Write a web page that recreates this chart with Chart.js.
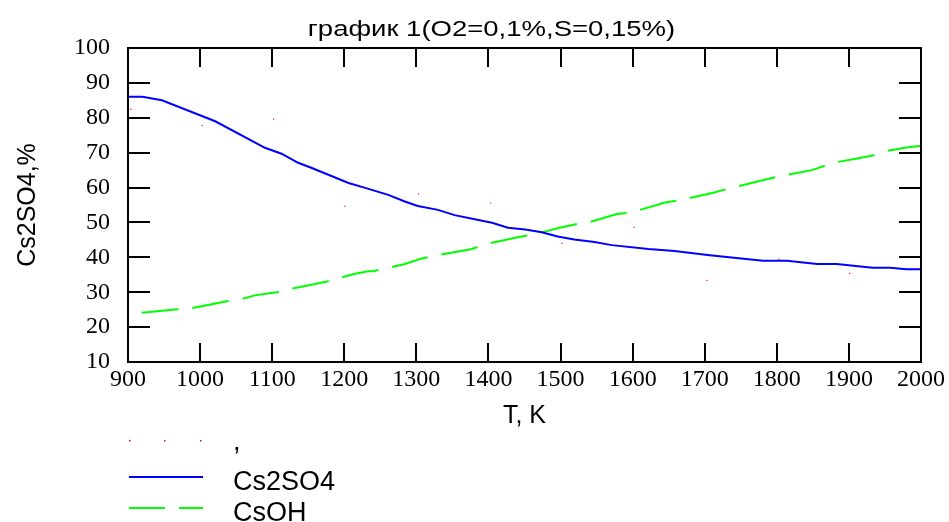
<!DOCTYPE html>
<html>
<head>
<meta charset="utf-8">
<script src="https://cdn.jsdelivr.net/npm/chart.js@4.4.1/dist/chart.umd.min.js"></script>
<style>
  html, body { margin: 0; padding: 0; background: #fff; }
</style>
</head>
<body>
<canvas id="chart" width="949" height="522"></canvas>
<script>
const chartTitle = 'график 1(O2=0,1%,S=0,15%)';

// temperature, K
const tempCs2SO4 = [900, 920, 947, 1021, 1090, 1113, 1136, 1155, 1206, 1229, 1261, 1284, 1302, 1330, 1353, 1381, 1405, 1427, 1451, 1474, 1496, 1519, 1547, 1571, 1622, 1658, 1707, 1781, 1814, 1856, 1883, 1933, 1957, 1980, 2000];
const cs2so4 = [86.0, 86.0, 85.0, 79.0, 71.4, 69.7, 67.1, 65.6, 61.3, 59.9, 57.9, 56.0, 54.7, 53.6, 52.1, 50.9, 49.9, 48.5, 48.0, 47.2, 46.0, 45.1, 44.4, 43.5, 42.4, 41.8, 40.6, 39.0, 39.0, 38.1, 38.1, 37.0, 37.0, 36.6, 36.6];

const tempCsOH = [919, 969, 988, 1039, 1060, 1076, 1106, 1127, 1173, 1194, 1215, 1233, 1240, 1261, 1284, 1305, 1326, 1377, 1398, 1444, 1464, 1497, 1510, 1531, 1543, 1578, 1599, 1645, 1666, 1712, 1733, 1779, 1800, 1849, 1878, 1913, 1933, 1952, 1980, 2000];
const csoh = [24.1, 25.1, 25.4, 27.5, 28.2, 29.1, 30.0, 31.0, 32.9, 34.1, 35.3, 36.0, 36.0, 37.0, 38.1, 39.5, 40.5, 42.4, 43.9, 45.9, 46.6, 48.4, 49.0, 49.9, 50.3, 52.4, 52.9, 55.7, 56.4, 58.5, 59.7, 62.0, 63.1, 65.0, 67.1, 68.4, 69.2, 70.5, 71.5, 72.0];

// the stray red points
const tempMarks = [904, 1003, 1102, 1201, 1303, 1403, 1502, 1602, 1703, 1803, 1901];
const marks = [82.4, 77.8, 79.6, 54.6, 58.2, 55.5, 44.0, 48.6, 33.4, 39.4, 35.4];

const xTicks = [900, 1000, 1100, 1200, 1300, 1400, 1500, 1600, 1700, 1800, 1900, 2000];
const yTicks = [10, 20, 30, 40, 50, 60, 70, 80, 90, 100];

const SANS = "'Liberation Sans', Arial, sans-serif";
const SERIF = "'Liberation Serif', 'Times New Roman', serif";

const zip = (xs, ys) => xs.map((x, i) => ({ x, y: ys[i] }));

// title, legend under the plot, then frame with inward ticks
const boxPlugin = {
  id: 'boxTicks',
  afterDraw(chart) {
    const ctx = chart.ctx;
    const a = chart.chartArea;
    const xs = chart.scales.x;
    const ys = chart.scales.y;
    ctx.save();
    ctx.setLineDash([]);
    ctx.fillStyle = '#000';

    // title (text in the original is a bit stretched)
    ctx.font = '22px ' + SANS;
    ctx.textAlign = 'center';
    ctx.textBaseline = 'alphabetic';
    ctx.save();
    ctx.translate(491.5, 36);
    ctx.scale(1.25, 1);
    ctx.fillText(chartTitle, 0, 0);
    ctx.restore();

    // legend
    const rows = [
      { ds: chart.data.datasets[0], lineY: 440, textY: 450 },
      { ds: chart.data.datasets[1], lineY: 477, textY: 490 },
      { ds: chart.data.datasets[2], lineY: 508, textY: 521 }
    ];
    ctx.textAlign = 'left';
    ctx.font = '27px ' + SANS;
    rows.forEach((r) => {
      const ds = r.ds;
      if (ds.showLine === false) {
        ctx.fillStyle = ds.backgroundColor;
        [129, 164, 200].forEach((px) => ctx.fillRect(px, r.lineY, 1.5, 1.5));
      } else {
        ctx.strokeStyle = ds.borderColor;
        ctx.lineWidth = ds.borderWidth;
        ctx.setLineDash(ds.borderDash ? [36, 14] : []);
        ctx.beginPath();
        ctx.moveTo(129, r.lineY);
        ctx.lineTo(203, r.lineY);
        ctx.stroke();
        ctx.setLineDash([]);
      }
      ctx.fillStyle = '#000';
      ctx.fillText(ds.label, 233, r.textY);
    });

    // frame
    ctx.fillStyle = '#000';
    ctx.fillRect(a.left - 1, a.top - 1, a.right - a.left + 2, 2);
    ctx.fillRect(a.left - 1, a.bottom - 1, a.right - a.left + 2, 2);
    ctx.fillRect(a.left - 1, a.top - 1, 2, a.bottom - a.top + 2);
    ctx.fillRect(a.right - 1, a.top - 1, 2, a.bottom - a.top + 2);

    // inward tick marks on all four sides
    yTicks.forEach((v) => {
      const py = Math.round(ys.getPixelForValue(v));
      ctx.fillRect(a.left, py - 1, 22, 2);
      ctx.fillRect(a.right - 22, py - 1, 22, 2);
    });
    xTicks.forEach((v) => {
      const px = Math.round(xs.getPixelForValue(v));
      ctx.fillRect(px - 1, a.bottom - 19, 2, 19);
      ctx.fillRect(px - 1, a.top, 2, 19);
    });
    ctx.font = '14px sans-serif';
    ctx.fillStyle = '#fff';
    ctx.fillText('.', 940, 515);
    ctx.restore();
  }
};

new Chart(document.getElementById('chart'), {
  type: 'line',
  data: {
    datasets: [
      {
        label: ',',
        data: zip(tempMarks, marks),
        showLine: false,
        pointStyle: 'rect',
        pointRadius: 0.8,
        pointBorderWidth: 0,
        backgroundColor: '#ff0000',
        borderColor: '#ff0000'
      },
      {
        label: 'Cs2SO4',
        data: zip(tempCs2SO4, cs2so4),
        borderColor: '#0000ff',
        borderWidth: 2,
        pointRadius: 0,
        tension: 0
      },
      {
        label: 'CsOH',
        data: zip(tempCsOH, csoh),
        borderColor: '#00ff00',
        borderWidth: 2,
        borderDash: [37, 14],
        pointRadius: 0,
        tension: 0
      }
    ]
  },
  options: {
    responsive: false,
    animation: false,
    layout: { padding: { top: 48, right: 28, bottom: 80, left: 0 } },
    plugins: {
      legend: { display: false },
      title: { display: false },
      tooltip: { enabled: false }
    },
    scales: {
      x: {
        type: 'linear',
        min: 900,
        max: 2000,
        afterFit: (s) => { s.height = 80; },
        afterBuildTicks: (s) => { s.ticks = xTicks.map((v) => ({ value: v })); },
        grid: { display: false, drawTicks: false },
        border: { display: false },
        ticks: {
          color: '#000',
          padding: 3,
          maxRotation: 0,
          autoSkip: false,
          font: { family: SERIF, size: 24 },
          callback: (v) => String(v)
        },
        title: {
          display: true,
          text: 'T, K',
          color: '#000',
          font: { family: SANS, size: 25 },
          padding: { top: 0, bottom: 11 }
        }
      },
      y: {
        min: 10,
        max: 100,
        afterFit: (s) => { s.width = 128; },
        afterBuildTicks: (s) => { s.ticks = yTicks.map((v) => ({ value: v })); },
        grid: { display: false, drawTicks: false },
        border: { display: false },
        ticks: {
          color: '#000',
          padding: 18,
          font: { family: SERIF, size: 24 },
          callback: (v) => String(v)
        },
        title: {
          display: true,
          text: 'Cs2SO4,%',
          color: '#000',
          font: { family: SANS, size: 25 },
          padding: { top: 13, bottom: 0 }
        }
      }
    }
  },
  plugins: [boxPlugin]
});
</script>
</body>
</html>
